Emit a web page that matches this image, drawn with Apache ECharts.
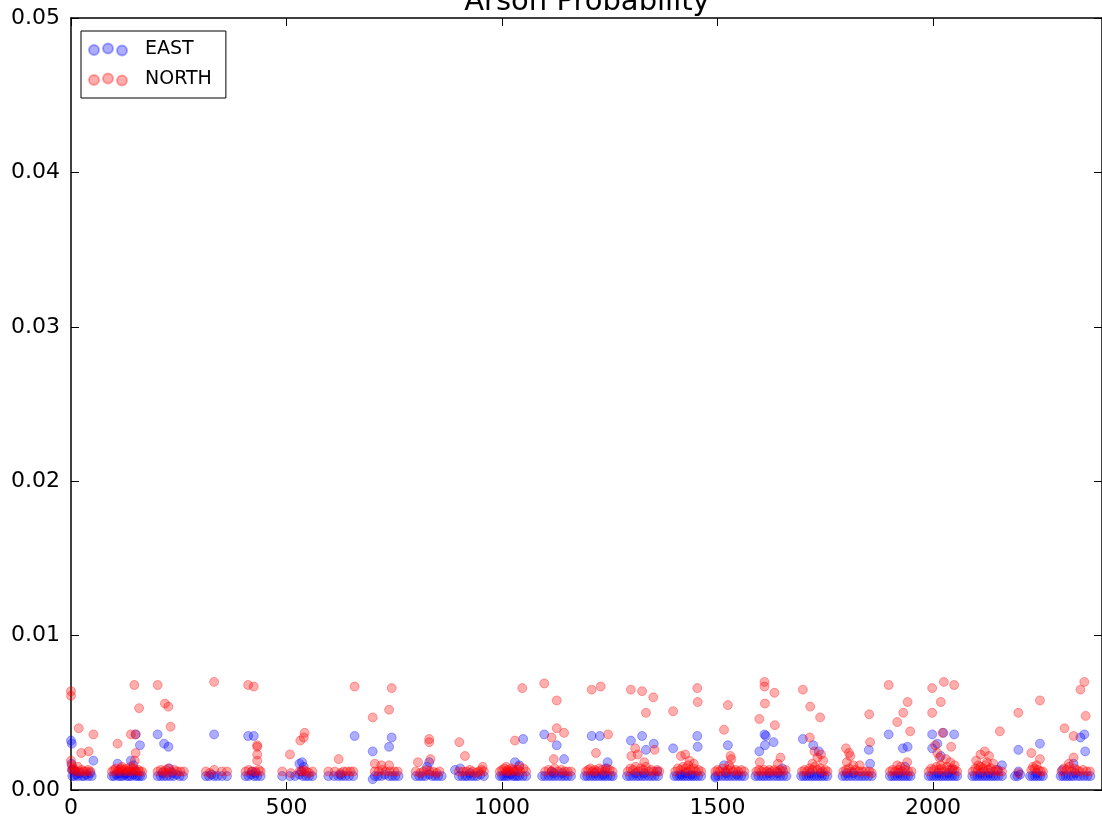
<!DOCTYPE html>
<html>
<head>
<meta charset="utf-8">
<title>Arson Probability</title>
<script src="https://cdn.jsdelivr.net/npm/echarts@6/dist/echarts.min.js"></script>
<style>
  html, body { margin: 0; padding: 0; background: #fff; }
  #chart { width: 1102px; height: 829px; }
</style>
</head>
<body>
<div id="chart"></div>
<script>
const seriesNames = ['EAST', 'NORTH']
const xTicks = [0, 500, 1000, 1500, 2000]
const yTicks = [0.00, 0.01, 0.02, 0.03, 0.04, 0.05]

// [index, probability]
const eastPoints = [
  [0,0.0032],[2,0.003],[52,0.0019],[1,0.0017],[5,0.0013],[3,0.0009],[8,0.0009],[12,0.001],[16,0.0009],[20,0.0011],[25,0.0009],[30,0.0009],[35,0.001],[40,0.0009],[45,0.0011],[48,0.0009],[2,0.0013],[10,0.0012],
  [139,0.0019],[108,0.0017],[150,0.0036],[160,0.0029],[145,0.0016],[95,0.0009],[100,0.0009],[105,0.001],[110,0.0009],[115,0.0009],[120,0.0009],[125,0.001],[130,0.0009],[135,0.0009],[140,0.0009],[145,0.001],[150,0.0009],[155,0.0009],[160,0.0009],[165,0.0009],[112,0.0011],[128,0.0011],[148,0.0012],
  [201,0.0036],[216,0.003],[226,0.0028],[228,0.0014],[201,0.0009],[208,0.0009],[215,0.0009],[222,0.0009],[230,0.0009],[238,0.0009],[245,0.001],[252,0.0009],[260,0.0009],[212,0.0011],[235,0.0011],
  [332,0.0036],[313,0.0009],[320,0.0009],[332,0.0009],[340,0.0009],[350,0.0009],[362,0.0009],[326,0.001],
  [411,0.0035],[424,0.0035],[405,0.0009],[412,0.0009],[418,0.001],[425,0.0009],[432,0.0009],[440,0.0009],[420,0.0012],[428,0.0011],
  [536,0.0018],[530,0.0017],[540,0.0015],[490,0.0009],[508,0.0009],[520,0.0009],[530,0.001],[538,0.0009],[545,0.0009],[552,0.0009],[560,0.0009],[534,0.0012],
  [658,0.0035],[597,0.0009],[610,0.0009],[620,0.0009],[628,0.0009],[636,0.0009],[645,0.0009],[655,0.0009],[625,0.001],
  [744,0.0034],[738,0.0028],[700,0.0025],[700,0.0007],[705,0.0009],[712,0.0009],[720,0.0009],[728,0.001],[738,0.0009],[745,0.0009],[752,0.0009],[760,0.0009],
  [831,0.0018],[826,0.0015],[800,0.0009],[808,0.0009],[815,0.0009],[822,0.0009],[831,0.001],[838,0.0009],[845,0.0009],[852,0.0009],[860,0.0009],
  [903,0.0014],[891,0.0013],[900,0.0009],[908,0.0009],[915,0.0009],[920,0.0009],[928,0.0009],[935,0.0009],[942,0.0009],[950,0.001],[958,0.0009],[925,0.0011],
  [1049,0.0033],[1030,0.0018],[1040,0.0016],[995,0.0009],[1000,0.0009],[1005,0.0009],[1010,0.0009],[1015,0.0009],[1020,0.001],[1025,0.0009],[1030,0.0009],[1035,0.0009],[1040,0.0009],[1048,0.0009],[1056,0.0009],[1012,0.0011],[1028,0.0012],
  [1098,0.0036],[1127,0.0029],[1144,0.002],[1115,0.0012],[1093,0.0009],[1100,0.0009],[1108,0.0009],[1115,0.0009],[1122,0.0009],[1130,0.0009],[1138,0.0009],[1145,0.0009],[1152,0.0009],[1160,0.0009],[1120,0.0011],[1140,0.0011],
  [1208,0.0035],[1227,0.0035],[1245,0.0018],[1240,0.0014],[1192,0.0009],[1198,0.0009],[1205,0.0009],[1212,0.0009],[1218,0.0009],[1225,0.0009],[1232,0.0009],[1238,0.0009],[1245,0.0009],[1252,0.0009],[1257,0.0009],[1215,0.0011],[1235,0.001],
  [1299,0.0032],[1325,0.0035],[1352,0.003],[1334,0.0026],[1360,0.0012],[1290,0.0009],[1297,0.0009],[1304,0.0009],[1312,0.0009],[1318,0.0009],[1325,0.0009],[1332,0.0009],[1340,0.0009],[1347,0.0009],[1354,0.0009],[1362,0.0009],[1310,0.0011],[1330,0.0011],
  [1453,0.0035],[1454,0.0028],[1397,0.0027],[1400,0.0009],[1406,0.0009],[1412,0.0009],[1418,0.0009],[1424,0.0009],[1430,0.0009],[1436,0.0009],[1442,0.0009],[1448,0.0009],[1455,0.0009],[1462,0.0009],[1415,0.001],[1440,0.001],[1425,0.0011],
  [1524,0.0029],[1515,0.0016],[1495,0.0009],[1495,0.0008],[1502,0.0009],[1510,0.0009],[1518,0.0009],[1525,0.0009],[1532,0.0009],[1540,0.0009],[1548,0.0009],[1555,0.0009],[1562,0.0009],[1520,0.0011],[1545,0.001],
  [1609,0.0036],[1612,0.0035],[1610,0.0029],[1630,0.0031],[1597,0.0025],[1650,0.0014],[1588,0.0009],[1595,0.0009],[1602,0.0009],[1608,0.0009],[1615,0.0009],[1622,0.0009],[1630,0.0009],[1638,0.0009],[1645,0.0009],[1652,0.0009],[1660,0.0009],[1620,0.0011],[1640,0.0011],
  [1698,0.0033],[1722,0.0029],[1735,0.0025],[1694,0.0009],[1700,0.0009],[1706,0.0009],[1712,0.0009],[1718,0.0009],[1724,0.0009],[1730,0.0009],[1736,0.0009],[1742,0.0009],[1748,0.0009],[1755,0.0009],[1715,0.0011],[1740,0.0011],
  [1851,0.0026],[1854,0.0017],[1790,0.0009],[1797,0.0009],[1804,0.0009],[1812,0.0009],[1820,0.0009],[1828,0.0009],[1835,0.0009],[1842,0.0009],[1850,0.0009],[1858,0.0009],[1815,0.0011],[1800,0.0011],
  [1897,0.0036],[1930,0.0027],[1941,0.0028],[1935,0.0015],[1900,0.0009],[1906,0.0009],[1912,0.0009],[1918,0.0009],[1924,0.0009],[1930,0.0009],[1936,0.0009],[1942,0.0009],[1948,0.0009],[1920,0.0011],
  [1998,0.0036],[2024,0.0037],[2049,0.0036],[1998,0.0027],[2010,0.003],[2018,0.0022],[1990,0.0009],[1996,0.0009],[2002,0.0009],[2008,0.0009],[2014,0.0009],[2020,0.0009],[2026,0.0009],[2032,0.0009],[2038,0.0009],[2044,0.0009],[2050,0.0009],[2056,0.0009],[2012,0.0011],[2035,0.0011],[2045,0.0013],
  [2160,0.0016],[2150,0.0013],[2091,0.0009],[2097,0.0009],[2103,0.0009],[2109,0.0009],[2115,0.0009],[2121,0.0009],[2127,0.0009],[2133,0.0009],[2139,0.0009],[2145,0.0009],[2152,0.0009],[2160,0.0009],[2110,0.0011],[2130,0.0011],
  [2198,0.0026],[2248,0.003],[2190,0.0009],[2196,0.0009],[2202,0.001],[2225,0.0009],[2231,0.0009],[2237,0.0009],[2243,0.0009],[2249,0.0009],[2255,0.0009],[2240,0.0011],[2198,0.0012],
  [2351,0.0036],[2342,0.0034],[2353,0.0025],[2326,0.0017],[2300,0.0013],[2296,0.0009],[2302,0.0009],[2308,0.0009],[2314,0.0009],[2320,0.0009],[2326,0.0009],[2335,0.0009],[2342,0.0009],[2350,0.0009],[2358,0.0009],[2365,0.0009],[2330,0.0011]
]

const northPoints = [
  [0,0.0064],[0,0.0061],[18,0.004],[52,0.0036],[24,0.0024],[41,0.0025],[2,0.0016],[5,0.0014],[8,0.0013],[12,0.0012],[16,0.0015],[20,0.0012],[25,0.0013],[30,0.0012],[35,0.0012],[40,0.0013],[45,0.0012],[0,0.0019],[3,0.0013],
  [108,0.003],[147,0.0068],[158,0.0053],[139,0.0036],[150,0.0036],[150,0.0024],[148,0.0019],[95,0.0012],[100,0.0013],[104,0.0014],[108,0.0012],[112,0.0013],[116,0.0014],[120,0.0012],[124,0.0013],[128,0.0014],[132,0.0012],[136,0.0013],[140,0.0012],[144,0.0014],[148,0.0013],[152,0.0012],[156,0.0013],[160,0.0012],[165,0.0012],[118,0.0015],[138,0.0015],
  [201,0.0068],[218,0.0056],[226,0.0054],[231,0.0041],[201,0.0012],[208,0.0013],[214,0.0012],[220,0.0013],[226,0.0014],[232,0.0012],[240,0.0013],[246,0.0012],[254,0.0012],[262,0.0012],[222,0.0011],
  [332,0.007],[313,0.0012],[332,0.0013],[350,0.0012],[362,0.0012],[322,0.0011],
  [411,0.0068],[424,0.0067],[432,0.0029],[432,0.0028],[432,0.0023],[432,0.0019],[405,0.0012],[412,0.0013],[420,0.0012],[428,0.0012],[436,0.0013],[440,0.0012],
  [508,0.0023],[532,0.0032],[542,0.0037],[540,0.0034],[490,0.0012],[510,0.0011],[530,0.0012],[536,0.0012],[540,0.0013],[546,0.0012],[552,0.0011],[560,0.0012],
  [621,0.002],[658,0.0067],[597,0.0012],[612,0.0012],[625,0.0011],[632,0.0012],[640,0.0012],[648,0.0012],[655,0.0012],
  [700,0.0047],[738,0.0052],[744,0.0066],[705,0.0017],[720,0.0016],[738,0.0016],[705,0.0012],[714,0.0012],[722,0.0013],[730,0.0012],[740,0.0012],[750,0.0012],[758,0.0012],
  [831,0.0033],[831,0.0031],[805,0.0018],[834,0.002],[800,0.0012],[810,0.0011],[818,0.0012],[825,0.0013],[832,0.0012],[840,0.0012],[848,0.0011],[855,0.0012],
  [901,0.0031],[914,0.0022],[955,0.0015],[900,0.0012],[910,0.0012],[918,0.0012],[925,0.0013],[932,0.0012],[940,0.0011],[946,0.0012],[952,0.0013],[958,0.0012],
  [1047,0.0066],[1030,0.0032],[995,0.0012],[1000,0.0013],[1005,0.0014],[1010,0.0012],[1014,0.0013],[1018,0.0012],[1022,0.0014],[1026,0.0013],[1030,0.0012],[1036,0.0013],[1042,0.0012],[1050,0.0014],[1056,0.0012],[1040,0.0015],[1010,0.0015],
  [1098,0.0069],[1127,0.0058],[1127,0.004],[1144,0.0037],[1115,0.0034],[1120,0.002],[1100,0.0012],[1108,0.0013],[1115,0.0012],[1122,0.0014],[1130,0.0012],[1138,0.0013],[1145,0.0012],[1152,0.0012],[1160,0.0012],
  [1208,0.0065],[1229,0.0067],[1246,0.0036],[1218,0.0024],[1195,0.0012],[1200,0.0013],[1205,0.0014],[1210,0.0012],[1215,0.0013],[1220,0.0012],[1226,0.0014],[1232,0.0013],[1238,0.0012],[1244,0.0014],[1250,0.0013],[1256,0.0012],
  [1299,0.0065],[1325,0.0064],[1351,0.006],[1334,0.005],[1309,0.0027],[1354,0.0026],[1300,0.0022],[1315,0.0023],[1330,0.0018],[1292,0.0012],[1298,0.0014],[1304,0.0013],[1310,0.0015],[1316,0.0012],[1322,0.0014],[1328,0.0013],[1334,0.0015],[1340,0.0012],[1346,0.0013],[1352,0.0012],[1360,0.0013],[1365,0.0012],
  [1397,0.0051],[1453,0.0066],[1454,0.0057],[1415,0.0022],[1425,0.0023],[1435,0.0019],[1445,0.0017],[1402,0.0012],[1408,0.0014],[1414,0.0013],[1420,0.0015],[1426,0.0014],[1432,0.0016],[1438,0.0013],[1444,0.0014],[1450,0.0012],[1456,0.0013],[1462,0.0012],[1430,0.0012],
  [1524,0.0055],[1515,0.0039],[1530,0.0022],[1532,0.002],[1495,0.0012],[1500,0.0013],[1505,0.0012],[1512,0.0014],[1518,0.0012],[1524,0.0013],[1530,0.0014],[1536,0.0012],[1542,0.0013],[1548,0.0012],[1555,0.0013],[1562,0.0012],[1527,0.0016],
  [1609,0.007],[1609,0.0067],[1632,0.0063],[1610,0.0056],[1597,0.0046],[1633,0.0042],[1646,0.0021],[1598,0.0018],[1640,0.0017],[1590,0.0012],[1596,0.0013],[1602,0.0012],[1608,0.0013],[1614,0.0012],[1620,0.0013],[1626,0.0012],[1632,0.0013],[1638,0.0012],[1645,0.0013],[1652,0.0012],[1658,0.0013],
  [1698,0.0065],[1715,0.0054],[1738,0.0047],[1714,0.0034],[1725,0.0025],[1740,0.0023],[1745,0.0019],[1720,0.0017],[1732,0.0021],[1696,0.0012],[1702,0.0013],[1708,0.0012],[1714,0.0014],[1720,0.0013],[1726,0.0015],[1732,0.0013],[1738,0.0014],[1744,0.0012],[1750,0.0013],[1755,0.0012],
  [1798,0.0027],[1805,0.0024],[1808,0.0022],[1852,0.0049],[1854,0.0031],[1800,0.0018],[1830,0.0016],[1792,0.0012],[1798,0.0013],[1805,0.0014],[1812,0.0012],[1820,0.0013],[1828,0.0012],[1836,0.0012],[1844,0.0012],[1852,0.0012],[1858,0.0011],[1815,0.0016],
  [1897,0.0068],[1941,0.0057],[1931,0.005],[1917,0.0044],[1947,0.0038],[1917,0.0016],[1940,0.0018],[1900,0.0012],[1906,0.0013],[1912,0.0012],[1920,0.0013],[1928,0.0012],[1935,0.0013],[1942,0.0012],[1950,0.0012],[1925,0.0015],
  [1998,0.0066],[2025,0.007],[2049,0.0068],[2018,0.0057],[1998,0.005],[2022,0.0037],[2005,0.0029],[2042,0.0028],[2010,0.0024],[2015,0.0021],[2030,0.002],[2040,0.0018],[2050,0.0016],[1990,0.0012],[1996,0.0014],[2002,0.0013],[2008,0.0015],[2014,0.0013],[2020,0.0014],[2026,0.0012],[2032,0.0015],[2038,0.0013],[2044,0.0014],[2050,0.0013],[2056,0.0012],[2018,0.0016],
  [2155,0.0038],[2120,0.0025],[2110,0.0023],[2130,0.0022],[2100,0.0019],[2125,0.0018],[2140,0.0017],[2105,0.0016],[2092,0.0012],[2098,0.0014],[2104,0.0013],[2110,0.0015],[2116,0.0014],[2122,0.0016],[2128,0.0013],[2134,0.0014],[2140,0.0012],[2146,0.0013],[2152,0.0012],[2160,0.0012],[2118,0.0012],
  [2198,0.005],[2248,0.0058],[2228,0.0024],[2248,0.002],[2198,0.0011],[2228,0.0013],[2232,0.0015],[2236,0.0014],[2240,0.0016],[2244,0.0013],[2250,0.0012],[2255,0.0012],
  [2351,0.007],[2342,0.0065],[2354,0.0048],[2305,0.004],[2326,0.0035],[2326,0.0021],[2315,0.0017],[2298,0.0012],[2304,0.0014],[2310,0.0013],[2316,0.0015],[2322,0.0012],[2328,0.0014],[2334,0.0013],[2340,0.0012],[2348,0.0013],[2356,0.0012],[2364,0.0012]
]

const font = 'DejaVu Sans'
const eastColor = 'rgba(0, 0, 255, 0.4)'
const northColor = 'rgba(255, 0, 0, 0.4)'
// three scatter dots, like the matplotlib legend marker
const threeDots = 'path://M0,6.5a5,5 0 1,0 10,0a5,5 0 1,0 -10,0zM14,5a5,5 0 1,0 10,0a5,5 0 1,0 -10,0zM28,7a5,5 0 1,0 10,0a5,5 0 1,0 -10,0z'

const xStep = xTicks[1] - xTicks[0]
const yStep = yTicks[1] - yTicks[0]

function xAxisOpt(position, showLabel) {
  return {
    type: 'value',
    position: position,
    min: xTicks[0],
    max: 2392,
    interval: xStep,
    axisLine: { show: true, onZero: false, lineStyle: { color: '#000', width: 1.5 } },
    axisTick: { show: true, inside: true, length: 8, lineStyle: { color: '#000', width: 1 } },
    axisLabel: {
      show: showLabel,
      showMaxLabel: false,
      margin: 7,
      fontSize: 22,
      fontFamily: font,
      color: '#000',
      formatter: v => (xTicks.indexOf(v) >= 0 ? String(v) : '')
    },
    splitLine: { show: false }
  }
}

function yAxisOpt(position, showLabel) {
  return {
    type: 'value',
    position: position,
    min: yTicks[0],
    max: yTicks[yTicks.length - 1],
    interval: yStep,
    axisLine: { show: true, onZero: false, lineStyle: { color: '#000', width: 1.5 } },
    axisTick: { show: true, inside: true, length: 8, lineStyle: { color: '#000', width: 1 } },
    axisLabel: {
      show: showLabel,
      margin: 11,
      fontSize: 22,
      fontFamily: font,
      color: '#000',
      formatter: v => v.toFixed(2)
    },
    splitLine: { show: false }
  }
}

const chart = echarts.init(document.getElementById('chart'))
chart.setOption({
  animation: false,
  backgroundColor: '#fff',
  grid: { left: 71, right: -2, top: 18, bottom: 39 },
  graphic: [{
    type: 'text',
    x: 587,
    y: 17,
    style: {
      text: 'Arson Probability',
      font: '29px "DejaVu Sans"',
      fill: '#000',
      textAlign: 'center',
      textVerticalAlign: 'bottom'
    }
  }],
  legend: {
    data: seriesNames,
    orient: 'vertical',
    left: 81,
    top: 31,
    padding: [9, 14, 9, 7],
    itemGap: 11,
    itemWidth: 38,
    itemHeight: 12,
    icon: threeDots,
    borderColor: '#000',
    borderWidth: 1,
    borderRadius: 0,
    backgroundColor: '#fff',
    textStyle: { fontSize: 19, fontFamily: font, color: '#000', padding: [0, 0, 0, 13] }
  },
  xAxis: [xAxisOpt('bottom', true), xAxisOpt('top', false)],
  yAxis: [yAxisOpt('left', true), yAxisOpt('right', false)],
  series: [
    {
      name: seriesNames[0],
      type: 'scatter',
      symbolSize: 9,
      itemStyle: { color: eastColor, borderColor: eastColor, borderWidth: 1 },
      data: eastPoints
    },
    {
      name: seriesNames[1],
      type: 'scatter',
      symbolSize: 9,
      itemStyle: { color: northColor, borderColor: northColor, borderWidth: 1 },
      data: northPoints
    }
  ]
})
</script>
</body>
</html>
